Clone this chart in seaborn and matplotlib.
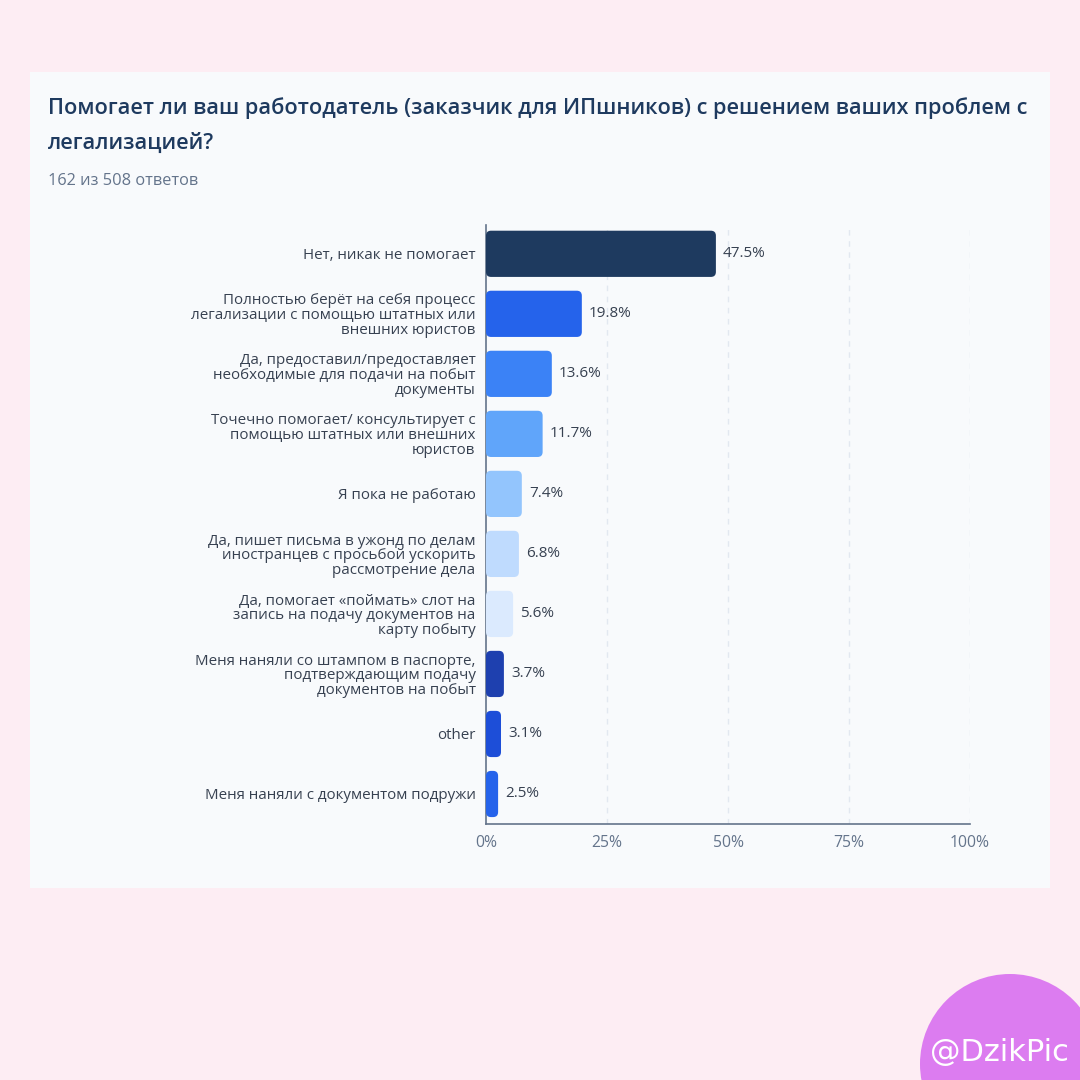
import matplotlib
matplotlib.use("Agg")
import matplotlib.pyplot as plt
import seaborn as sns
import pandas as pd
from matplotlib.patches import FancyBboxPatch, Rectangle, Circle

categories = [
    "Нет, никак не помогает",
    "Полностью берёт на себя процесс\nлегализации с помощью штатных или\nвнешних юристов",
    "Да, предоставил/предоставляет\nнеобходимые для подачи на побыт\nдокументы",
    "Точечно помогает/ консультирует с\nпомощью штатных или внешних\nюристов",
    "Я пока не работаю",
    "Да, пишет письма в ужонд по делам\nиностранцев с просьбой ускорить\nрассмотрение дела",
    "Да, помогает «поймать» слот на\nзапись на подачу документов на\nкарту побыту",
    "Меня наняли со штампом в паспорте,\nподтверждающим подачу\nдокументов на побыт",
    "other",
    "Меня наняли с документом подружи",
]
values = [47.5, 19.8, 13.6, 11.7, 7.4, 6.8, 5.6, 3.7, 3.1, 2.5]
bar_colors = ["#1E3A5F", "#2563EB", "#3B82F6", "#60A5FA", "#93C5FD",
              "#BFDBFE", "#DBEAFE", "#1E40AF", "#1D4ED8", "#2563EB"]
x_ticks = [0, 25, 50, 75, 100]
x_tick_labels = ["0%", "25%", "50%", "75%", "100%"]
title_lines = ["Помогает ли ваш работодатель (заказчик для ИПшников) с решением ваших проблем с",
               "легализацией?"]
subtitle = "162 из 508 ответов"
watermark = "@DzikPic"

sns.set_theme(style="white")
plt.rcParams['font.family'] = ['Open Sans', 'DejaVu Sans']

W = H = 1080
fig = plt.figure(figsize=(10.8, 10.8), dpi=100, facecolor="#FDEDF3")

# card
fig.patches.append(Rectangle((30 / W, 1 - 888 / H), 1020 / W, 816 / H,
                             transform=fig.transFigure, facecolor="#F8FAFC",
                             edgecolor="none", zorder=-2))

ax_l, ax_r, ax_t, ax_b = 486, 970, 225, 824
ax = fig.add_axes([ax_l / W, 1 - ax_b / H, (ax_r - ax_l) / W, (ax_b - ax_t) / H])
ax.set_facecolor("none")
ax.set_zorder(2)

df = pd.DataFrame({"cat": categories, "val": values})
sns.barplot(data=df, x="val", y="cat", hue="cat", palette=bar_colors,
            orient="h", width=0.77, legend=False, ax=ax, saturation=1)

ax.set_xlim(0, 100)
ax.set_ylim(9.5, -0.48)

# rounded bars
px_x = 100 / (ax_r - ax_l)
px_y = 9.98 / (ax_b - ax_t)
aspect = px_y / px_x
for p in list(ax.patches):
    x0, y0 = p.get_x(), p.get_y()
    w, h = p.get_width(), p.get_height()
    fc = p.get_facecolor()
    p.set_visible(False)
    rs = min(5 * px_x, w / 2)
    fb = FancyBboxPatch((x0, y0), w, h,
                        boxstyle=f"round,pad=0,rounding_size={rs}",
                        mutation_aspect=aspect, facecolor=fc, edgecolor="none",
                        zorder=3)
    ax.add_patch(fb)

for i, v in enumerate(values):
    ax.text(v + 7 * px_x, i, f"{v}%", va="center", ha="left",
            fontsize=11.0, color="#374151", zorder=4)

ax.set_xlabel("")
ax.set_ylabel("")
ax.set_xticks(x_ticks)
ax.set_xticklabels(x_tick_labels)
for xt in x_ticks[1:]:
    ax.axvline(xt, color="#E2E8F0", linestyle=(0, (4, 4)), linewidth=1, zorder=1)

for s in ["top", "right"]:
    ax.spines[s].set_visible(False)
for s in ["left", "bottom"]:
    ax.spines[s].set_color("#64748B")
    ax.spines[s].set_linewidth(1.2)

ax.tick_params(axis="x", colors="#64748B", labelcolor="#64748B", length=5,
               width=1, direction="out", labelsize=11.3, pad=3)
ax.tick_params(axis="y", colors="#64748B", labelcolor="#374151", length=6,
               width=1, direction="out", labelsize=10.9, pad=1.5)
for lbl in ax.get_yticklabels():
    lbl.set_linespacing(0.98)
    lbl.set_multialignment("right")

fig.text(48 / W, 1 - 108 / H, title_lines[0], fontsize=15.7, fontweight="semibold",
         color="#1E3A5F", va="center", ha="left")
fig.text(48 / W, 1 - 143 / H, title_lines[1], fontsize=15.7, fontweight="semibold",
         color="#1E3A5F", va="center", ha="left")
fig.text(48 / W, 1 - 181 / H, subtitle, fontsize=11.8, color="#64748B",
         va="center", ha="left")

# watermark
fig.patches.append(Circle((1010 / W, 1 - 1064 / H), 90 / W, transform=fig.transFigure,
                          facecolor="#DC7CF0", edgecolor="none", zorder=5))
fig.text(999 / W, 1 - 1052 / H, watermark, fontsize=22, color="white",
         ha="center", va="center", zorder=6,
         family=["Liberation Sans Narrow", "DejaVu Sans"])

fig.savefig("out.png", dpi=100, facecolor=fig.get_facecolor())
